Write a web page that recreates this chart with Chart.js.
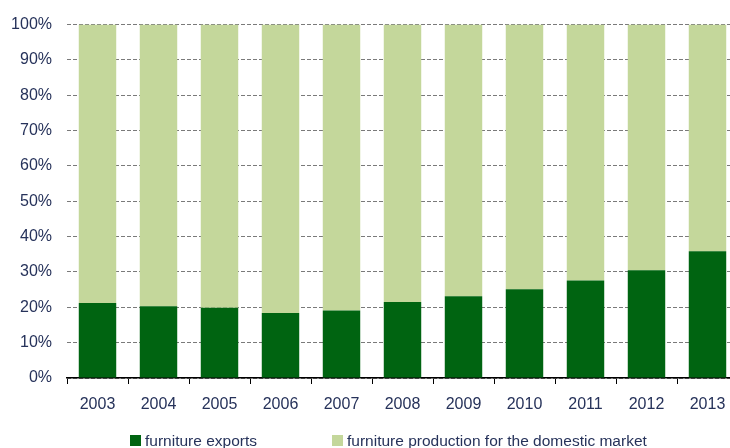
<!DOCTYPE html>
<html>
<head>
<meta charset="utf-8">
<script src="https://cdn.jsdelivr.net/npm/chart.js@4.4.1/dist/chart.umd.min.js"></script>
<style>
  html, body { margin: 0; padding: 0; background: #fff; overflow: hidden; }
  #wrap { width: 730px; height: 448px; overflow: hidden; }
</style>
</head>
<body>
<div id="wrap"><canvas id="chart" width="740" height="448"></canvas></div>
<script>
const years = ["2003", "2004", "2005", "2006", "2007", "2008", "2009", "2010", "2011", "2012", "2013"];
const exportsShare = [21.2, 20.3, 19.9, 18.4, 19.1, 21.5, 23.1, 25.1, 27.6, 30.5, 35.9];
const domesticShare = [78.8, 79.7, 80.1, 81.6, 80.9, 78.5, 76.9, 74.9, 72.4, 69.5, 64.1];

const textColor = "#26325a";
const fontFamily = "'Liberation Sans', Arial, sans-serif";

// legend drawn by hand so the wide gap between the two items can be kept
const bottomLegend = {
  id: "bottomLegend",
  afterDraw(chart) {
    const c = chart.ctx;
    const spots = [130, 332];
    c.save();
    c.font = "15.5px " + fontFamily;
    c.textBaseline = "alphabetic";
    chart.data.datasets.forEach((ds, i) => {
      const x = spots[i];
      c.fillStyle = ds.backgroundColor;
      c.fillRect(x, 435, 11, 11);
      c.fillStyle = textColor;
      c.fillText(ds.label, x + 15, 446);
    });
    c.restore();
  },
};

const ctx = document.getElementById("chart");
new Chart(ctx, {
  type: "bar",
  data: {
    labels: years,
    datasets: [
      {
        label: "furniture exports",
        data: exportsShare,
        backgroundColor: "#006411",
      },
      {
        label: "furniture production for the domestic market",
        data: domesticShare,
        backgroundColor: "#c4d79b",
      },
    ],
  },
  options: {
    responsive: false,
    animation: false,
    layout: {
      padding: { top: 23, right: 2, bottom: 34, left: 0 },
    },
    plugins: {
      legend: { display: false },
      tooltip: { enabled: false },
    },
    datasets: {
      bar: { categoryPercentage: 1, barPercentage: 0.614 },
    },
    scales: {
      x: {
        stacked: true,
        grid: {
          drawOnChartArea: false,
          drawTicks: true,
          tickLength: 6,
          color: "#000",
          offset: true,
        },
        border: { display: true, color: "#000", width: 1.5 },
        ticks: {
          color: textColor,
          font: { family: fontFamily, size: 16 },
          padding: 11,
          maxRotation: 0,
        },
        afterFit(scale) {
          scale.height = 36;
        },
      },
      y: {
        stacked: true,
        min: 0,
        max: 100,
        grid: {
          drawTicks: false,
          color: "#7a7a7a",
          lineWidth: 1,
        },
        border: { display: false, dash: [4, 2] },
        ticks: {
          stepSize: 10,
          padding: 15,
          color: textColor,
          font: { family: fontFamily, size: 16 },
          callback: (v) => v + "%",
        },
        afterFit(scale) {
          scale.width = 67;
        },
      },
    },
  },
  plugins: [bottomLegend],
});
</script>
</body>
</html>
